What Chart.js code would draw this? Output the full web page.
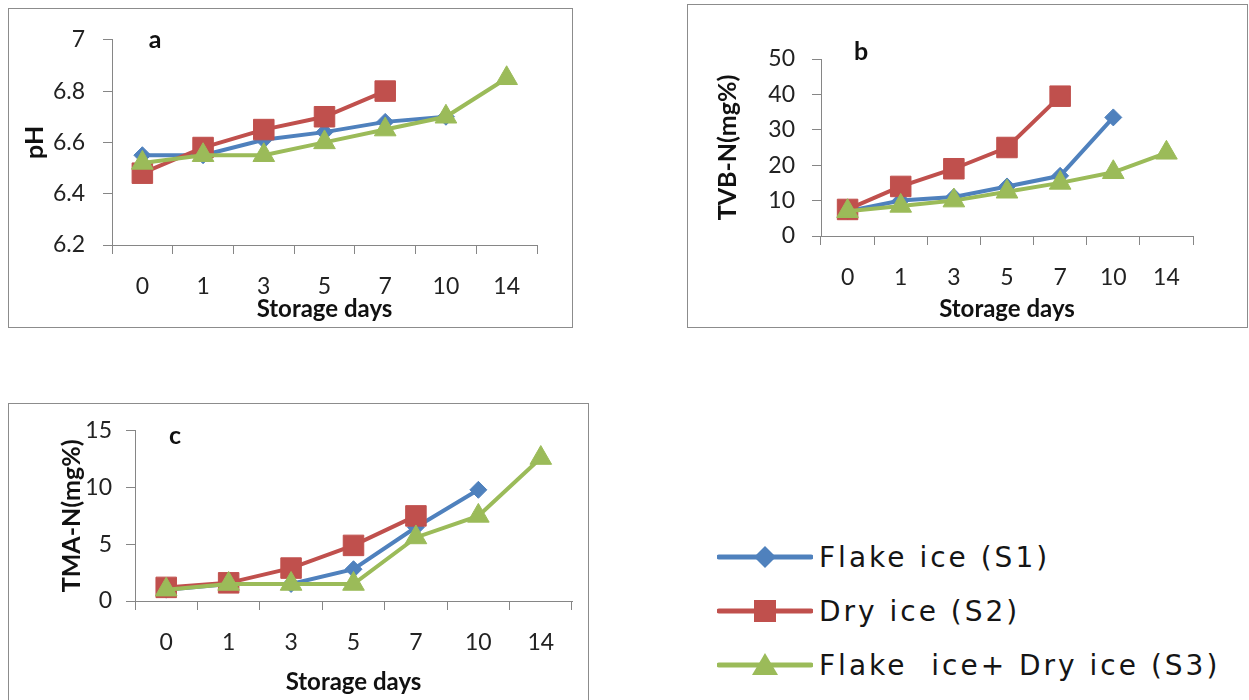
<!DOCTYPE html>
<html><head><meta charset="utf-8">
<script src="https://cdn.jsdelivr.net/npm/chart.js"></script>
<style>
html,body{margin:0;padding:0;background:#fff;width:1249px;height:700px;overflow:hidden;position:relative;font-family:Lato,sans-serif}
.box{position:absolute;border:1.5px solid #8c8c8c;box-sizing:border-box;pointer-events:none}
canvas{position:absolute}
.tag{position:absolute;font-weight:bold;font-size:25px;color:#111;transform:translate(-50%,-50%);line-height:1;font-family:Lato,sans-serif}
.leg{position:absolute;left:717px;height:30px;display:flex;align-items:center}
.leg span{font-family:"DejaVu Sans",sans-serif;font-size:28px;letter-spacing:3px;color:#151515;white-space:pre;margin-left:6px}
</style></head><body>
<canvas id="ca"></canvas><div class="box" id="ba"></div>
<canvas id="cb"></canvas><div class="box" id="bb"></div>
<canvas id="cc"></canvas><div class="box" id="bc"></div>
<div class="tag" style="left:155px;top:38px">a</div>
<div class="tag" style="left:861px;top:50px">b</div>
<div class="tag" style="left:175px;top:434px">c</div>
<div id="legend"></div>
<script>
// ---- data ----
const days = ['0','1','3','5','7','10','14'];
const seriesNames = ['Flake ice (S1)','Dry ice (S2)','Flake  ice+ Dry ice (S3)'];
const seriesColors = ['#4F81BD','#C0504D','#9BBB59'];
const phS1 = [6.55,6.55,6.61,6.64,6.68,6.70,null];
const phS2 = [6.48,6.58,6.65,6.70,6.80,null,null];
const phS3 = [6.52,6.55,6.55,6.60,6.65,6.70,6.85];
const tvbS1 = [7,10,11,14,17,33.5,null];
const tvbS2 = [7.5,14,19,25,39.5,null,null];
const tvbS3 = [7,8.5,10,12.5,15,18,23.5];
const tmaS1 = [1,1.5,1.5,2.8,6.5,9.8,null];
const tmaS2 = [1.2,1.6,2.9,4.9,7.5,null,null];
const tmaS3 = [1,1.5,1.5,1.5,5.6,7.5,12.6];
const phTicks = [6.2,6.4,6.6,6.8,7];
const tvbTicks = [0,10,20,30,40,50];
const tmaTicks = [0,5,10,15];

const AXIS = '#868686';
const styles = [
  {pointStyle:'rectRot', radius:8.5, order:2},
  {pointStyle:'rect', radius:14.5, order:1},
  {pointStyle:'triangle', radius:12.5, order:0}
];

function makeChart(id, boxId, box, area, o){
  const cv = document.getElementById(id);
  cv.width = box.w; cv.height = box.h;
  cv.style.left = box.left+'px'; cv.style.top = box.top+'px';
  const bd = document.getElementById(boxId);
  bd.style.left = box.left+'px'; bd.style.top = box.top+'px';
  bd.style.width = box.w+'px'; bd.style.height = (box.bh||box.h)+'px';
  if (box.noBottom) bd.style.borderBottom = 'none';
  const yW = area.left - box.left;
  const xH = box.top + box.h - area.bottom;
  const datasets = o.series.map((d,i)=>({
    label: seriesNames[i], data: d,
    borderColor: seriesColors[i], backgroundColor: seriesColors[i],
    pointBackgroundColor: seriesColors[i], pointBorderColor: seriesColors[i],
    borderWidth: 4, pointBorderWidth: 1, tension: 0,
    pointStyle: styles[i].pointStyle, pointRadius: styles[i].radius,
    order: styles[i].order
  }));
  return new Chart(cv, {
    type:'line',
    data:{labels: days, datasets},
    options:{
      responsive:false, animation:false, devicePixelRatio:1,
      layout:{padding:{left:0, top: area.top - box.top, right: box.left + box.w - area.right, bottom:0}},
      plugins:{legend:{display:false}, tooltip:{enabled:false}},
      scales:{
        x:{
          offset:true,
          grid:{display:true, offset:true, drawOnChartArea:false, drawTicks:true, tickLength:9, color:AXIS},
          border:{display:true, color:AXIS, width:1},
          ticks:{padding:19, color:'#222', font:{family:'Lato', size:23}, maxRotation:0, autoSkip:false},
          title:{display:true, text:'Storage days', color:'#111', font:{family:'Lato', size:24, weight:'bold'}, padding:{top:0, bottom:o.xTitlePad}},
          afterFit: s => { s.height = xH; }
        },
        y:{
          min:o.ticks[0], max:o.ticks[o.ticks.length-1],
          afterBuildTicks: s => { s.ticks = o.ticks.map(v=>({value:v})); },
          grid:{display:true, drawOnChartArea:false, drawTicks:true, tickLength:9, color:AXIS},
          border:{display:true, color:AXIS, width:1},
          ticks:{padding:o.yPad, color:'#222', font:{family:'Lato', size:23}, callback: v => String(v)},
          title:{display:true, text:o.yTitle, color:'#111', font:{family:'Lato', size:25, weight:'bold'}, padding:{top:o.yTitlePad, bottom:0}},
          afterFit: s => { s.width = yW; }
        }
      }
    }
  });
}

makeChart('ca','ba', {left:8, top:8, w:565, h:320}, {left:112, right:537, top:31, bottom:245},
  {series:[phS1,phS2,phS3], ticks:phTicks, yTitle:'pH', yTitlePad:12, yPad:18, xTitlePad:4});
makeChart('cb','bb', {left:687, top:4, w:561, h:324}, {left:821, right:1193, top:59, bottom:236},
  {series:[tvbS1,tvbS2,tvbS3], ticks:tvbTicks, yTitle:'TVB-N(mg%)', yTitlePad:26, yPad:17, xTitlePad:4});
makeChart('cc','bc', {left:8, top:403, w:581, h:297, bh:300, noBottom:true}, {left:135, right:572, top:427, bottom:601},
  {series:[tmaS1,tmaS2,tmaS3], ticks:tmaTicks, yTitle:'TMA-N(mg%)', yTitlePad:49, yPad:14, xTitlePad:3});

// ---- legend ----
const legendY = [557, 611, 665];
const lg = document.getElementById('legend');
seriesNames.forEach((name,i)=>{
  const c = seriesColors[i];
  let mk = '';
  if (i===0) mk = `<polygon points="37,15 48,4 59,15 48,26" fill="${c}"/>`;
  if (i===1) mk = `<rect x="37" y="4" width="22" height="22" fill="${c}"/>`;
  if (i===2) mk = `<polygon points="48,3 61,25 35,25" fill="${c}"/>`;
  const row = document.createElement('div');
  row.className = 'leg';
  row.style.top = (legendY[i]-15)+'px';
  row.innerHTML = `<svg width="96" height="30"><line x1="2" y1="15" x2="94" y2="15" stroke="${c}" stroke-width="5" stroke-linecap="round"/>${mk}</svg><span>${name}</span>`;
  lg.appendChild(row);
});
</script>
</body></html>
